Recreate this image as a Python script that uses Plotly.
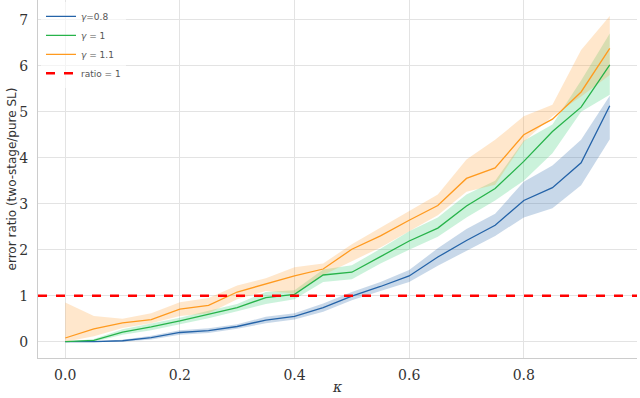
import plotly.graph_objects as go

# ------ data ------ #
kappa = [0.0, 0.05, 0.1, 0.15, 0.2, 0.25, 0.3, 0.35, 0.4, 0.45,
         0.5, 0.55, 0.6, 0.65, 0.7, 0.75, 0.8, 0.85, 0.9, 0.95]

g08_mean = [0.0, 0.0, 0.02, 0.09, 0.2, 0.24, 0.33, 0.47, 0.55, 0.74,
            0.99, 1.2, 1.43, 1.84, 2.2, 2.53, 3.07, 3.35, 3.89, 5.13]
g08_low = [0.0, 0.0, 0.0, 0.05, 0.15, 0.19, 0.28, 0.4, 0.48, 0.65,
           0.9, 1.1, 1.3, 1.65, 1.98, 2.3, 2.7, 2.9, 3.4, 4.4]
g08_high = [0.0, 0.01, 0.04, 0.13, 0.25, 0.29, 0.38, 0.54, 0.62, 0.83,
            1.08, 1.3, 1.56, 2.03, 2.45, 2.78, 3.48, 3.83, 4.39, 5.35]

g1_mean = [0.0, 0.03, 0.21, 0.32, 0.45, 0.59, 0.74, 0.96, 1.03, 1.45,
           1.51, 1.85, 2.19, 2.47, 2.95, 3.33, 3.92, 4.57, 5.1, 6.02]
g1_low = [0.0, 0.0, 0.15, 0.25, 0.38, 0.51, 0.66, 0.82, 0.92, 1.3,
          1.36, 1.7, 2.0, 2.28, 2.7, 3.07, 3.5, 4.1, 5.0, 5.37]
g1_high = [0.0, 0.06, 0.27, 0.39, 0.52, 0.67, 0.82, 1.08, 1.12, 1.57,
           1.66, 2.02, 2.4, 2.7, 3.2, 3.5, 4.37, 4.72, 5.68, 6.7]

g11_mean = [0.08, 0.28, 0.41, 0.48, 0.71, 0.79, 1.08, 1.25, 1.43, 1.58,
            2.01, 2.3, 2.64, 2.96, 3.55, 3.78, 4.5, 4.84, 5.43, 6.38]
g11_low = [0.0, 0.12, 0.3, 0.4, 0.56, 0.62, 0.92, 1.1, 1.05, 1.45,
           1.75, 2.05, 2.4, 2.75, 3.26, 3.41, 4.35, 4.9, 5.33, 5.8]
g11_high = [0.85, 0.56, 0.5, 0.62, 0.86, 0.95, 1.22, 1.38, 1.62, 1.7,
            2.12, 2.48, 2.85, 3.2, 3.96, 4.39, 4.9, 5.15, 6.34, 7.08]

series = [
    ("<i>γ</i>=0.8", g08_mean, g08_low, g08_high, "#2463a8", "rgba(36,99,168,0.25)"),
    ("<i>γ</i> = 1", g1_mean, g1_low, g1_high, "#27b34a", "rgba(46,204,113,0.25)"),
    ("<i>γ</i> = 1.1", g11_mean, g11_low, g11_high, "#ff9a1f", "rgba(255,160,50,0.25)"),
]

x_range = [-0.0475, 0.9975]
serif = "DejaVu Serif"

fig = go.Figure()

# ------ bands first, then lines ------ #
for name, mean, low, high, col, fillcol in series:
    fig.add_trace(go.Scatter(x=kappa, y=low, mode="lines", line=dict(width=0),
                             showlegend=False, hoverinfo="skip"))
    fig.add_trace(go.Scatter(x=kappa, y=high, mode="lines", line=dict(width=0),
                             fill="tonexty", fillcolor=fillcol,
                             showlegend=False, hoverinfo="skip"))

for name, mean, low, high, col, fillcol in series:
    fig.add_trace(go.Scatter(x=kappa, y=mean, mode="lines", name=name,
                             line=dict(color=col, width=1.3)))

fig.add_trace(go.Scatter(x=x_range, y=[1, 1], mode="lines",
                         name="ratio = 1",
                         line=dict(color="#ff0000", width=2.5, dash="dash")))

fig.update_layout(
    width=640, height=398,
    margin=dict(l=38, r=3, t=0, b=40),
    plot_bgcolor="white", paper_bgcolor="white",
    font=dict(family=serif, size=14, color="#333333"),
    legend=dict(x=0.005, y=0.995, xanchor="left", yanchor="top",
                traceorder="normal",
                bgcolor="rgba(255,255,255,0.6)",
                font=dict(family="DejaVu Sans", size=9, color="#555555"),
                tracegroupgap=0, itemwidth=30),
)
fig.update_xaxes(range=x_range, tickvals=[0, 0.2, 0.4, 0.6, 0.8],
                 ticktext=["0.0", "0.2", "0.4", "0.6", "0.8"],
                 tickfont=dict(family=serif, size=14, color="#333333"),
                 showgrid=True, gridcolor="#e3e3e3", zeroline=False,
                 showline=True, linecolor="#cccccc", ticks="",
                 automargin=False, ticklabelstandoff=4,
                 title=dict(text="<i>κ</i>", standoff=0,
                            font=dict(family=serif, size=14)))
fig.update_yaxes(range=[-0.355, 7.43], tickvals=list(range(8)),
                 tickfont=dict(family=serif, size=14, color="#333333"),
                 showgrid=True, gridcolor="#e3e3e3", zeroline=False,
                 showline=True, linecolor="#cccccc", ticks="",
                 automargin=False, ticklabelstandoff=6,
                 title=dict(text="error ratio (two-stage/pure SL)", standoff=0,
                            font=dict(family="DejaVu Sans", size=12, color="#333333")))

# page body margin would shift the figure, so drop it
fig.write_html("out.html", config={"displayModeBar": False},
               post_script="document.body.style.margin='0px';")
